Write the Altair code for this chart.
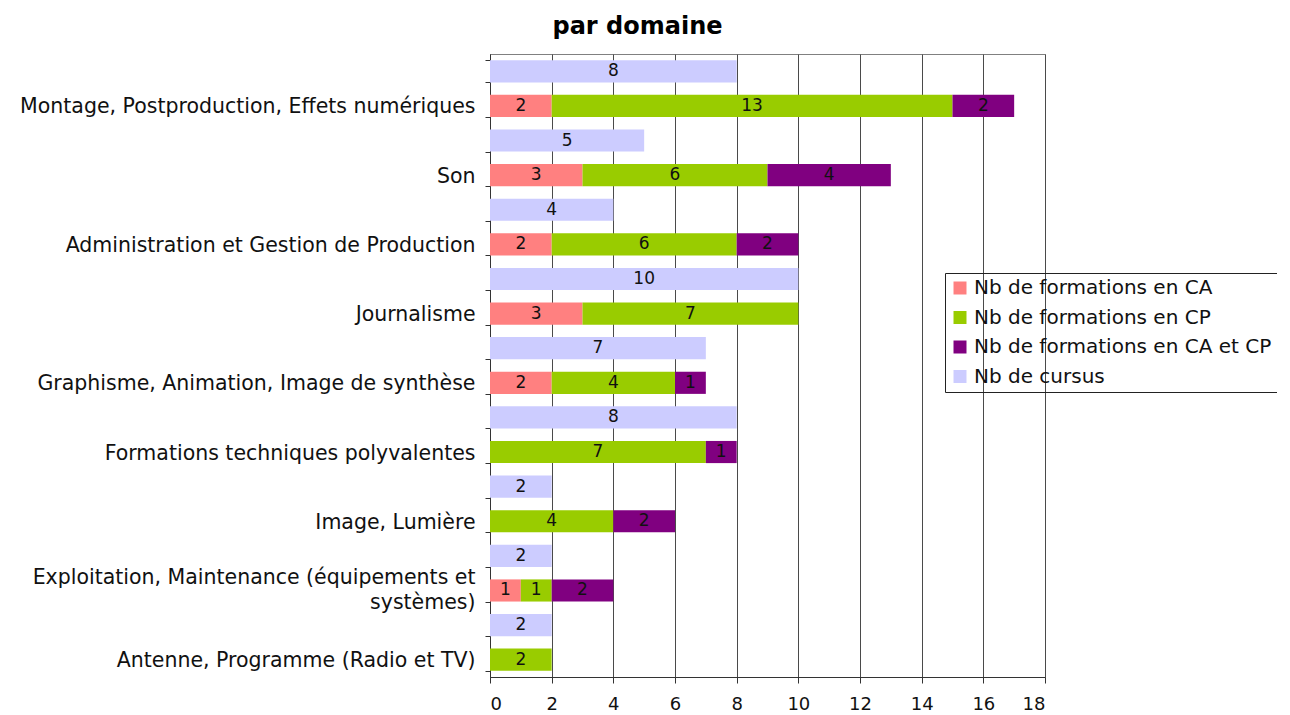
import json
import altair as alt
import pandas as pd

categories = [
    "Montage, Postproduction, Effets numériques",
    "Son",
    "Administration et Gestion de Production",
    "Journalisme",
    "Graphisme, Animation, Image de synthèse",
    "Formations techniques polyvalentes",
    "Image, Lumière",
    "Exploitation, Maintenance (équipements et\nsystèmes)",
    "Antenne, Programme (Radio et TV)",
]
nb_ca = [2, 3, 2, 3, 2, 0, 0, 1, 0]
nb_cp = [13, 6, 6, 7, 4, 7, 4, 1, 2]
nb_ca_cp = [2, 4, 2, 0, 1, 1, 2, 2, 0]
nb_cursus = [8, 5, 4, 10, 7, 8, 2, 2, 2]

series_names = [
    "Nb de formations en CA",
    "Nb de formations en CP",
    "Nb de formations en CA et CP",
    "Nb de cursus",
]
series_colors = ["#FF8080", "#99CC00", "#800080", "#CCCCFF"]
x_ticks = [0, 2, 4, 6, 8, 10, 12, 14, 16, 18]

rows = []
row_labels = []
multiline_rows = []
for i, c in enumerate(categories):
    ra, rb = 2 * i, 2 * i + 1
    lines = c.split("\n")
    row_labels += ["", lines if len(lines) > 1 else c]
    if len(lines) > 1:
        multiline_rows.append(rb)
    rows.append(dict(row=ra, serie=series_names[3], value=nb_cursus[i], k=3))
    for j, v in enumerate([nb_ca[i], nb_cp[i], nb_ca_cp[i]]):
        rows.append(dict(row=rb, serie=series_names[j], value=v, k=j))
df = pd.DataFrame(rows)

FONT = "DejaVu Sans"
label_expr = json.dumps(row_labels, ensure_ascii=False) + "[datum.value]"
multi_test = "indexof(" + json.dumps(multiline_rows) + ", datum.value) >= 0"

y_enc = alt.Y(
    "row:O",
    scale=alt.Scale(paddingInner=0.36, paddingOuter=0.18),
    axis=alt.Axis(
        title=None,
        labelExpr=label_expr,
        tickBand="extent",
        tickSize=5,
        tickColor="#333333",
        domainColor="#333333",
        labelPadding=10,
        labelFont=FONT,
        labelFontSize=20.5,
        labelColor="#111111",
        labelLineHeight=25,
        labelLimit=0,
        labelOffset={"condition": {"test": multi_test, "value": -13}, "value": 1},
    ),
)

base = (
    alt.Chart(df)
    .transform_filter("datum.value > 0")
    .transform_window(
        x1="sum(value)",
        groupby=["row"],
        sort=[alt.SortField("k", order="ascending")],
    )
    .transform_calculate(x0="datum.x1 - datum.value", xm="datum.x1 - datum.value / 2")
)

bars = base.mark_bar().encode(
    y=y_enc,
    x=alt.X(
        "x0:Q",
        scale=alt.Scale(domain=[0, 18], nice=False),
        axis=alt.Axis(
            title=None,
            values=x_ticks,
            grid=True,
            gridColor="#4a4a4a",
            gridWidth=1,
            tickSize=6,
            tickColor="#333333",
            domainColor="#333333",
            labelPadding=12,
            labelFont=FONT,
            labelFontSize=18,
            labelColor="#111111",
        ),
    ),
    x2="x1:Q",
    color=alt.Color(
        "serie:N",
        scale=alt.Scale(domain=series_names, range=series_colors),
        legend=alt.Legend(
            title=None,
            orient="none",
            legendX=455,
            legendY=219,
            strokeColor="#222222",
            padding=5,
            symbolType="square",
            symbolSize=169,
            symbolStrokeWidth=0,
            labelFont=FONT,
            labelFontSize=20,
            labelColor="#111111",
            rowPadding=9.5,
            labelOffset=4,
            labelLimit=0,
        ),
    ),
)

labels = base.mark_text(font=FONT, fontSize=17, color="#111111", baseline="middle").encode(
    y=alt.Y("row:O"),
    x=alt.X("xm:Q"),
    text=alt.Text("value:Q"),
)

chart = (
    alt.layer(bars, labels)
    .properties(
        width=555,
        height=623,
        autosize=alt.AutoSizeParams(type="none"),
        padding={"left": 482, "top": 46, "right": 232, "bottom": 36},
        title=alt.TitleParams(
            "par domaine",
            font=FONT,
            fontSize=24,
            fontWeight="bold",
            color="#000000",
            anchor="middle",
            frame="group",
            dx=-130,
            offset=5,
        ),
    )
    .configure_view(stroke="#808080", strokeWidth=1)
)

chart.save("out.html", embed_options={"renderer": "svg", "actions": False})
